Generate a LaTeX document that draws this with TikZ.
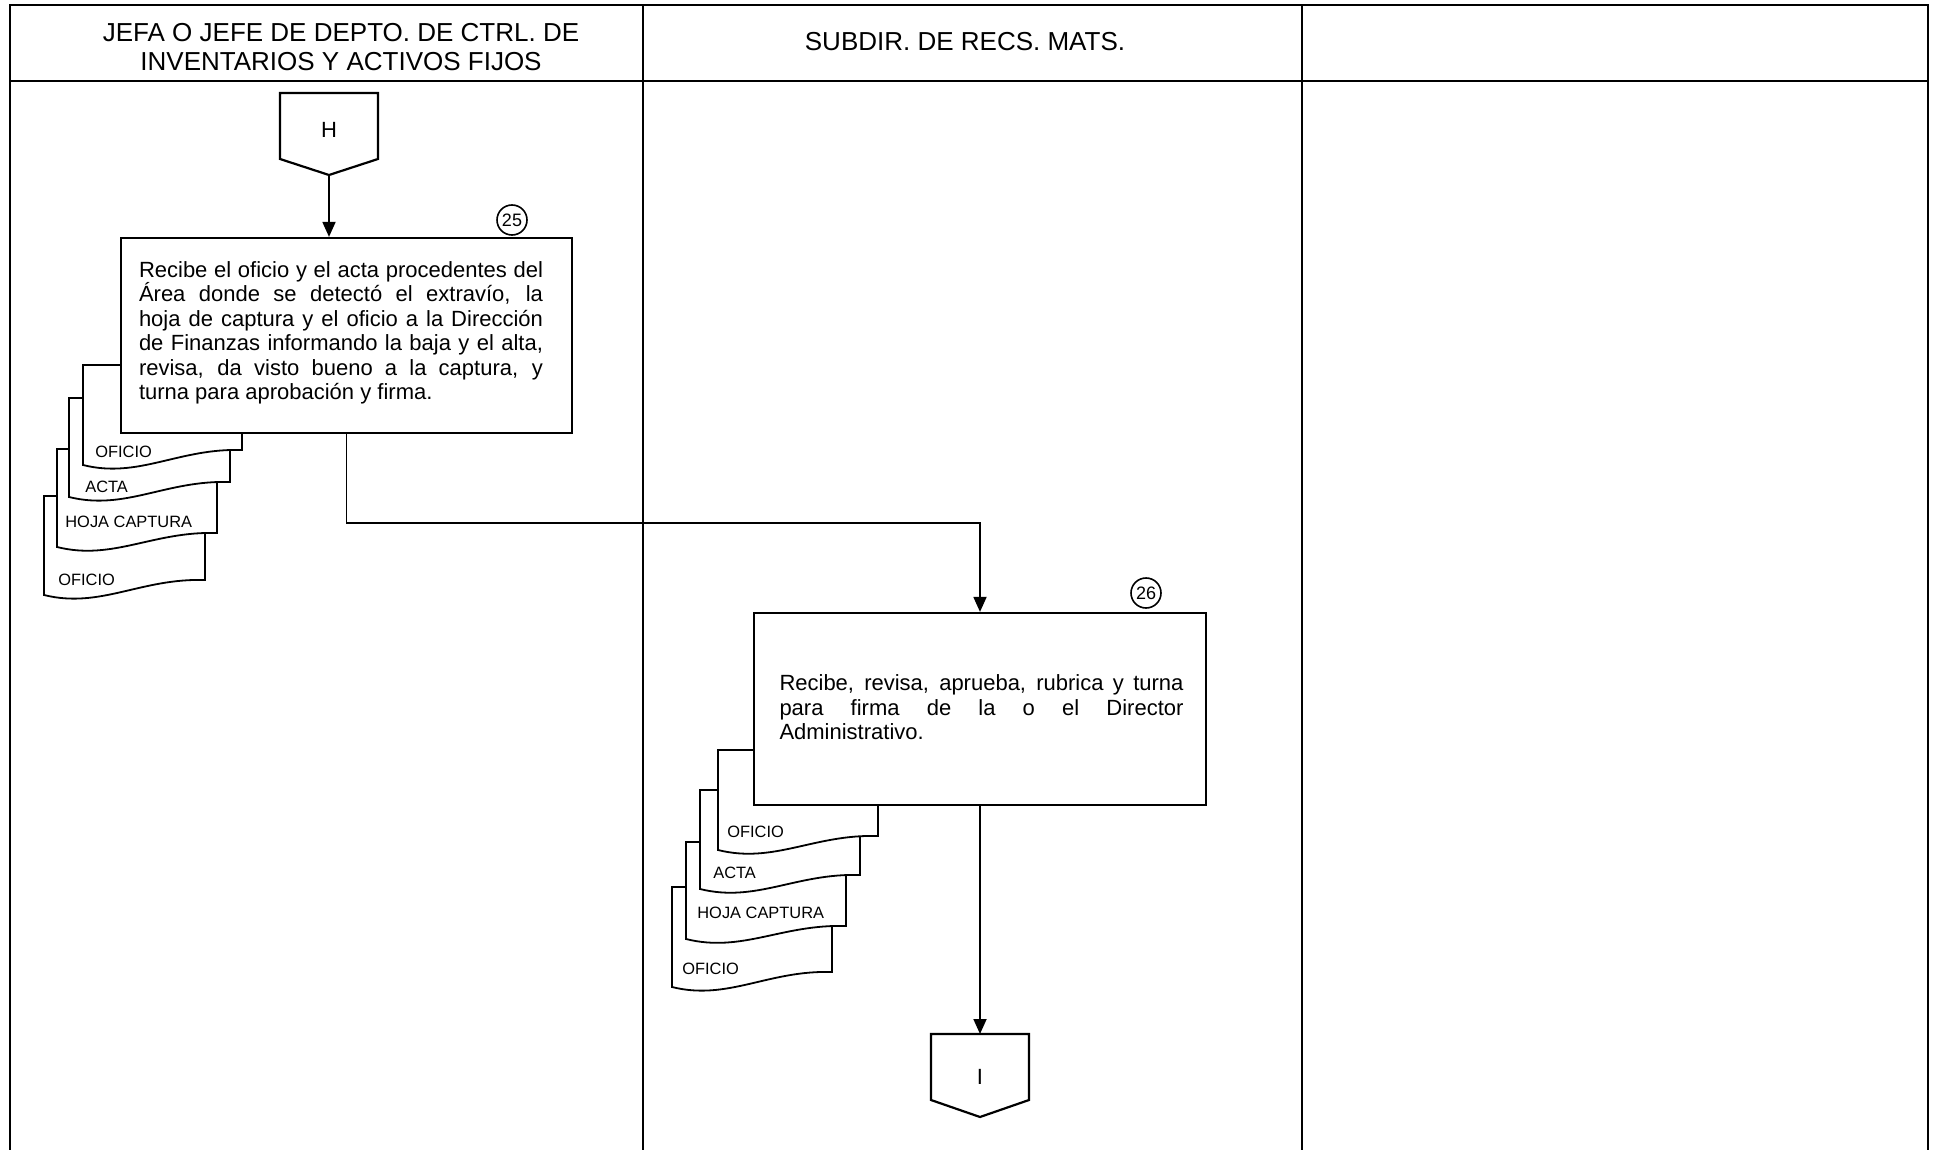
\documentclass[tikz,border=0pt]{standalone}
\usepackage{fontspec}
\setmainfont{Liberation Sans}
\usetikzlibrary{arrows.meta,calc}
\tikzset{
 frame/.style={line width=1.2pt},
 procbox/.style={draw, line width=1.1pt, fill=white, inner sep=0pt},
 conn/.style={line width=0.9pt, -{Triangle[length=7.5pt,width=6.5pt]}},
 docline/.style={draw, line width=0.9pt, fill=white},
 doctext/.style={font=\fontsize{8.2}{9}\selectfont, anchor=west, inner sep=0pt},
 bodytext/.style={font=\fontsize{11}{12.25}\selectfont, align=left, inner sep=0pt},
 headtext/.style={font=\fontsize{13}{14.5}\selectfont, align=center, inner sep=0pt},
 numcirc/.style={circle, draw, line width=0.8pt, minimum size=15pt, inner sep=0pt, font=\fontsize{9}{9}\selectfont},
 offpage/.style={line width=1.1pt},
 conntext/.style={font=\fontsize{11}{11}\selectfont, inner sep=0pt},
}
\newcommand{\docshape}[5]{% L T R rb lb
 \draw[docline] (#1,#2) -- (#3,#2) -- (#3,#4) .. controls ({#1+0.6*(#3-#1)},{#4-2}) and ({#1+0.35*(#3-#1)},{#5+14}) .. (#1,#5) -- cycle;}
\newcommand{\jl}[1]{\makebox[202pt][s]{#1}}
\begin{document}
\begin{tikzpicture}[x=0.5pt,y=-0.5pt]
\useasboundingbox (0,0) rectangle (1933,1150);
% frame
\draw[frame] (10,1150) -- (10,5) -- (1928,5) -- (1928,1150);
\draw[frame] (10,81) -- (1928,81);
\draw[frame] (643,5) -- (643,1150);
\draw[frame] (1302,5) -- (1302,1150);
% headers
\node[headtext] (h1) at (341,47) {JEFA O JEFE DE DEPTO. DE CTRL. DE\\INVENTARIOS Y ACTIVOS FIJOS};
\node[headtext] (h2) at (965,42) {SUBDIR. DE RECS. MATS.};
% off-page H
\draw[offpage] (280,93) -- (378,93) -- (378,159) -- (329,175) -- (280,159) -- cycle;
\node[conntext] (H) at (329,130) {H};
\coordinate (Hbot) at (329,175);
% documents col 1
\docshape{44}{496}{205}{580}{595}
\node[doctext] (d14) at (58,580) {OFICIO};
\docshape{57}{449}{217}{533}{547}
\node[doctext] (d13) at (65,522) {HOJA CAPTURA};
\docshape{69}{398}{230}{482}{497}
\node[doctext] (d12) at (85,487) {ACTA};
\docshape{83}{365}{242}{450}{465}
\node[doctext] (d11) at (95,452) {OFICIO};
% box 25
\node[procbox, minimum width=225.5pt, minimum height=97.5pt] (b25) at (346.5,335.5) {};
\node[bodytext] (t25) at (341,333) {\jl{Recibe el oficio y el acta procedentes del}\\
\jl{Área donde se detectó el extravío, la}\\
\jl{hoja de captura y el oficio a la Dirección}\\
\jl{de Finanzas informando la baja y el alta,}\\
\jl{revisa, da visto bueno a la captura, y}\\
turna para aprobación y firma.};
\node[numcirc] (n25) at (512,220) {25};
\draw[conn] (Hbot) -- (Hbot |- b25.north);
% documents col 2
\docshape{672}{887}{832}{972}{987}
\node[doctext] (d24) at (682,969) {OFICIO};
\docshape{686}{842}{846}{926}{939}
\node[doctext] (d23) at (697,913) {HOJA CAPTURA};
\docshape{700}{790}{860}{875}{889}
\node[doctext] (d22) at (713,873) {ACTA};
\docshape{718}{750}{878}{836}{850}
\node[doctext] (d21) at (727,832) {OFICIO};
% box 26
\node[procbox, minimum width=226pt, minimum height=96pt] (b26) at (980,709) {};
\node[bodytext] (t26) at (981.5,707.5) {\jl{Recibe, revisa, aprueba, rubrica y turna}\\
\jl{para firma de la o el Director}\\
Administrativo.};
\node[numcirc] (n26) at (1146,593) {26};
\draw[conn] (b25.south) -- ++(0,89) -| (b26.north);
% off-page I
\draw[offpage] (931,1034) -- (1029,1034) -- (1029,1100) -- (980,1117) -- (931,1100) -- cycle;
\node[conntext] (I) at (980,1077) {I};
\coordinate (Itop) at (980,1034);
\draw[conn] (b26.south) -- (Itop);
\end{tikzpicture}
\end{document}
